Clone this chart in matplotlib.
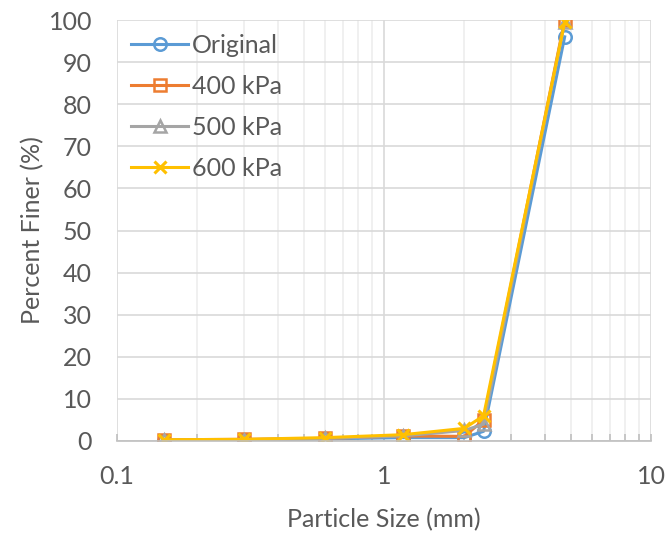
import matplotlib.pyplot as plt
import numpy as np

# sieve sizes (mm) and percent finer
sizes = [0.15, 0.3, 0.6, 1.18, 2.0, 2.36, 4.75]
original = [0.0, 0.2, 0.5, 0.8, 0.8, 2.3, 96.0]
kpa400 = [0.3, 0.4, 0.6, 1.2, 1.1, 5.0, 100.0]
kpa500 = [0.2, 0.3, 0.6, 1.2, 2.5, 4.0, 99.5]
kpa600 = [0.3, 0.4, 0.8, 1.5, 3.0, 6.0, 99.5]

plt.rcParams['font.family'] = ['Lato', 'DejaVu Sans']
txt = '#595959'
fs = 18

fig = plt.figure(figsize=(6.66, 5.35), dpi=100)
ax = fig.add_axes([117 / 666, 1 - 441 / 535, 534 / 666, 421 / 535])

ax.plot(sizes, original, color='#5B9BD5', marker='o', mfc='none', ms=9, mew=1.8, lw=2.2, label='Original')
ax.plot(sizes, kpa400, color='#ED7D31', marker='s', mfc='none', ms=9, mew=1.8, lw=2.2, label='400 kPa')
ax.plot(sizes, kpa500, color='#A5A5A5', marker='^', mfc='none', ms=9, mew=1.8, lw=2.2, label='500 kPa')
ax.plot(sizes, kpa600, color='#FFC000', marker='x', ms=9, mew=2.2, lw=2.2, label='600 kPa')

ax.set_xscale('log')
ax.set_xlim(0.1, 10)
ax.set_ylim(0, 100)
ax.set_yticks(np.arange(0, 101, 10))
ax.set_xticks([0.1, 1, 10])
ax.set_xticklabels(['0.1', '1', '10'])

ax.grid(True, which='major', color='#D9D9D9', lw=1.2)
ax.grid(True, which='minor', axis='x', color='#EDEDED', lw=1.2)
ax.set_axisbelow(True)

for s in ['top', 'right', 'left']:
    ax.spines[s].set_visible(False)
ax.spines['bottom'].set_color('#BFBFBF')
ax.spines['bottom'].set_linewidth(1.2)
ax.tick_params(axis='y', length=0, labelsize=fs, labelcolor=txt, pad=18)
ax.tick_params(axis='x', which='both', direction='in', length=5, width=1.2, color='#BFBFBF')
ax.tick_params(axis='x', which='major', labelsize=fs, labelcolor=txt, pad=17)
ax.tick_params(axis='x', which='minor', labelbottom=False)

ax.set_xlabel('Particle Size (mm)', fontsize=fs, color=txt, labelpad=15)
ax.set_ylabel('Percent Finer (%)', fontsize=fs, color=txt, labelpad=3)

leg = ax.legend(loc='upper left', bbox_to_anchor=(0.0, 1.0), frameon=False, fontsize=fs,
                labelspacing=0.72, handlelength=2.3, handletextpad=0.15, borderaxespad=0.15)
for t in leg.get_texts():
    t.set_color(txt)

fig.savefig('out.png', dpi=100)
